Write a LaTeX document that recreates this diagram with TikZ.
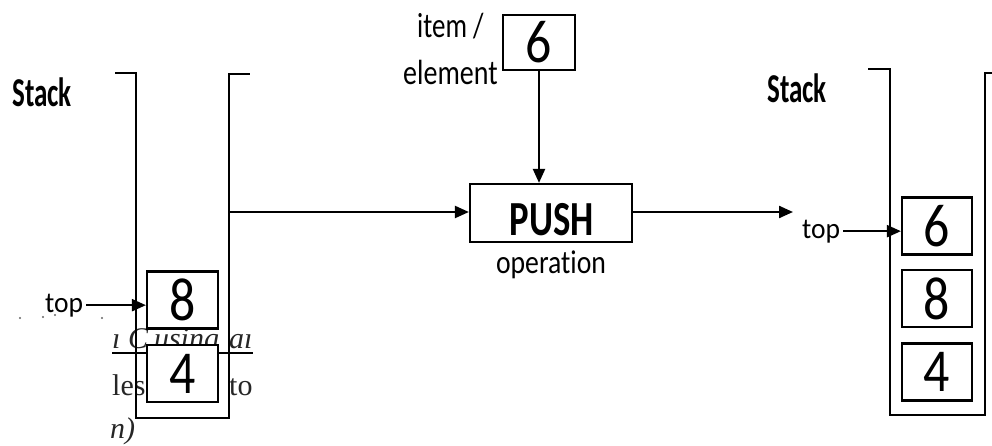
\documentclass[tikz,border=0pt]{standalone}
\usepackage{fontspec}
\usepackage{graphicx}
\setmainfont{Carlito}[Ligatures=NoCommon]
\newfontfamily\serifov{Liberation Serif}
\usetikzlibrary{arrows.meta}
\newcommand{\hsq}[2]{\scalebox{#1}[1]{#2}}
\tikzset{
  wall/.style={line width=2.2pt, line join=miter},
  cell/.style={draw, line width=2.2pt, fill=white, inner sep=0pt, minimum width=71pt, minimum height=57pt,
               font=\fontsize{61}{61}\selectfont},
  opbox/.style={draw, line width=2.2pt, fill=white, inner sep=0pt, minimum width=162pt, minimum height=58pt},
  lbl/.style={inner sep=0pt, anchor=base west},
  conn/.style={line width=2.2pt, -{Triangle[length=14pt, width=12pt]}},
  ov/.style={inner sep=0pt, anchor=base west, font=\serifov\fontsize{30}{30}\selectfont, text=black!85}
}
\begin{document}
\begin{tikzpicture}[x=1pt, y=-1pt]
\useasboundingbox[fill=white] (0,0) rectangle (992,446);

% overlay remnants (left)
\node[ov, font=\serifov\itshape\fontsize{30}{30}\selectfont] (ovA) at (112,348) {ı C\hspace{6pt}using\hspace{10pt}aı};
\draw[line width=1.5pt] (112,353) coordinate (ovL1) -- (253,353) coordinate (ovL2);
\node[ov] (ovB) at (112,395) {les};
\node[ov] (ovC) at (229,395) {to};
\node[ov, font=\serifov\itshape\fontsize{30}{30}\selectfont] (ovD) at (110,438) {n)};
\foreach \dx/\dy in {20/318, 43/317, 55/315, 102/318}
  \fill[black!60] (\dx,\dy) circle (1.1pt);

% left stack
\draw[wall] (115,73) -- (136,73) -- (136,418) -- (229,418) -- (229,74) -- (250,74);
\coordinate (lsr) at (229,212);
\node[cell] (L8) at (182.5,300) {\hsq{0.85}{8}};
\node[cell] (L4) at (182.5,373.5) {\hsq{0.85}{4}};
\node[lbl, font=\bfseries\fontsize{41}{41}\selectfont] (stackL) at (12,107) {\hsq{0.66}{Stack}};
\node[lbl, font=\fontsize{29}{29}\selectfont] (topL) at (45,312) {\hsq{0.95}{top}};
\draw[conn] ([xshift=3pt]topL.east) -- (L8.west |- topL.east);

% item and push
\node[cell, minimum width=72pt, minimum height=55pt] (item) at (539,42.5) {\hsq{0.85}{6}};
\node[lbl, font=\fontsize{35}{35}\selectfont] (itemL) at (417,38) {\hsq{0.77}{item /}};
\node[lbl, font=\fontsize{35}{35}\selectfont] (elemL) at (403,85) {\hsq{0.8}{element}};
\node[opbox] (push) at (551,213) {};
\node[inner sep=0pt, anchor=base, font=\bfseries\fontsize{49}{49}\selectfont] (pushT) at (552,236) {\hsq{0.75}{PUSH}};
\node[inner sep=0pt, anchor=base, font=\fontsize{33}{33}\selectfont] (opT) at (551,273) {\hsq{0.84}{operation}};
\draw[conn] (item.south) -- (push.north -| item.south);
\draw[conn] (lsr) -- (push.west |- lsr);

% right stack
\draw[wall] (868,69) -- (890,69) -- (890,415) -- (985,415) -- (985,73) -- (994,73);
\node[cell, minimum width=70pt] (R6) at (937,226) {\hsq{0.85}{6}};
\node[cell, minimum width=70pt] (R8) at (937,298.5) {\hsq{0.85}{8}};
\node[cell, minimum width=70pt] (R4) at (937,372) {\hsq{0.85}{4}};
\node[lbl, font=\bfseries\fontsize{41}{41}\selectfont] (stackR) at (767,103) {\hsq{0.66}{Stack}};
\node[lbl, font=\fontsize{29}{29}\selectfont] (topR) at (802,238) {\hsq{0.95}{top}};
\coordinate (pushEnd) at (793,212);
\draw[conn] (push.east |- pushEnd) -- (pushEnd);
\draw[conn] ([xshift=3pt]topR.east) -- (R6.west |- topR.east);
\end{tikzpicture}
\end{document}
